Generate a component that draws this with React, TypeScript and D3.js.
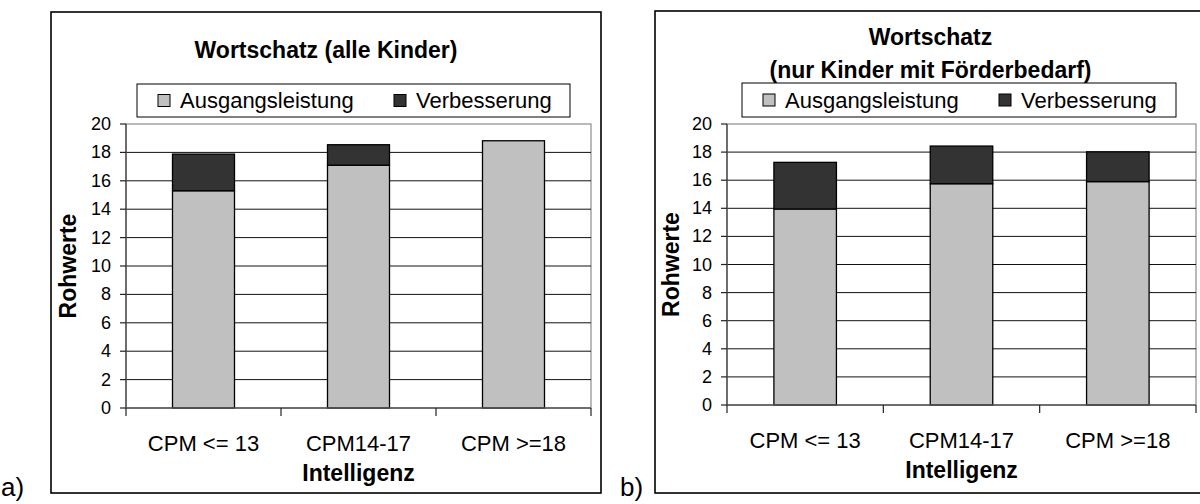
import React from "react";
import * as d3 from "d3";

const categories = ["CPM <= 13", "CPM14-17", "CPM >=18"];
const seriesNames = ["Ausgangsleistung", "Verbesserung"];
const seriesColors = ["#C0C0C0", "#333333"];
const yTicks = [0, 2, 4, 6, 8, 10, 12, 14, 16, 18, 20];

const baseA = [15.3, 17.1, 18.82];
const improveA = [2.58, 1.44, 0];
const baseB = [13.95, 15.75, 15.9];
const improveB = [3.32, 2.68, 2.12];

const titleA = ["Wortschatz (alle Kinder)"];
const titleB = ["Wortschatz", "(nur Kinder mit Förderbedarf)"];

const FONT = "'Liberation Sans', Arial, Helvetica, sans-serif";

type PanelProps = {
  box: { x0: number; x1: number; y0: number; y1: number };
  plot: { x0: number; x1: number; y0: number; y1: number };
  titles: string[];
  titleY: number[];
  legend: { x0: number; x1: number; y0: number; y1: number };
  base: number[];
  improve: number[];
  tag: string;
  tagX: number;
  yLabelX: number;
  catY: number;
  axisTitleY: number;
};

function Panel(p: PanelProps) {
  const x = d3
    .scaleBand<string>()
    .domain(categories)
    .range([p.plot.x0, p.plot.x1])
    .paddingInner(0.6)
    .paddingOuter(0.3);
  const y = d3.scaleLinear().domain([0, 20]).range([p.plot.y1, p.plot.y0]);
  const rows = categories.map((c, i) => ({ cat: c, s0: p.base[i], s1: p.improve[i] }));
  const stacked = d3.stack<any>().keys(["s0", "s1"])(rows);
  const step = x.step();
  const boundaries = [0, 1, 2, 3].map((i) => p.plot.x0 + i * step);
  const midX = (p.box.x0 + p.box.x1) / 2;
  const lg = p.legend;
  const lgMid = (lg.y0 + lg.y1) / 2;
  return (
    <g>
      <rect x={p.box.x0} y={p.box.y0} width={p.box.x1 - p.box.x0} height={p.box.y1 - p.box.y0} fill="white" stroke="#000" strokeWidth={1.6} />
      {p.titles.map((t, i) => (
        <text key={i} x={midX} y={p.titleY[i]} textAnchor="middle" dominantBaseline="central" fontFamily={FONT} fontWeight="bold" fontSize={23} fill="#000">
          {t}
        </text>
      ))}
      {/* plot border */}
      <rect x={p.plot.x0} y={p.plot.y0} width={p.plot.x1 - p.plot.x0} height={p.plot.y1 - p.plot.y0} fill="white" stroke="#8c8c8c" strokeWidth={1.2} />
      {/* gridlines */}
      {yTicks.slice(1, -1).map((t) => (
        <line key={t} x1={p.plot.x0} x2={p.plot.x1} y1={y(t)} y2={y(t)} stroke="#111" strokeWidth={1} />
      ))}
      {/* bars */}
      {stacked.map((layer, li) =>
        layer.map((d, i) => {
          const h = y(d[0]) - y(d[1]);
          if (h <= 0) return null;
          return (
            <rect key={li + "-" + i} x={x(categories[i])} y={y(d[1])} width={x.bandwidth()} height={h} fill={seriesColors[li]} stroke="#000" strokeWidth={1.3} />
          );
        })
      )}
      {/* axes */}
      <line x1={p.plot.x0} x2={p.plot.x0} y1={p.plot.y0} y2={p.plot.y1} stroke="#555" strokeWidth={1.5} />
      <line x1={p.plot.x0} x2={p.plot.x1} y1={p.plot.y1} y2={p.plot.y1} stroke="#555" strokeWidth={1.5} />
      {yTicks.map((t) => (
        <g key={t}>
          <line x1={p.plot.x0 - 6} x2={p.plot.x0} y1={y(t)} y2={y(t)} stroke="#222" strokeWidth={1.2} />
          <text x={p.plot.x0 - 15} y={y(t)} textAnchor="end" dominantBaseline="central" fontFamily={FONT} fontSize={18} fill="#000">
            {t}
          </text>
        </g>
      ))}
      {boundaries.map((bx, i) => (
        <line key={i} x1={bx} x2={bx} y1={p.plot.y1} y2={p.plot.y1 + 8} stroke="#222" strokeWidth={1.2} />
      ))}
      {categories.map((c) => (
        <text key={c} x={(x(c) as number) + x.bandwidth() / 2} y={p.catY} textAnchor="middle" dominantBaseline="central" fontFamily={FONT} fontSize={22} fill="#000">
          {c}
        </text>
      ))}
      <text x={(p.plot.x0 + p.plot.x1) / 2} y={p.axisTitleY} textAnchor="middle" dominantBaseline="central" fontFamily={FONT} fontWeight="bold" fontSize={23} fill="#000">
        Intelligenz
      </text>
      <text transform={`translate(${p.yLabelX},${(p.plot.y0 + p.plot.y1) / 2}) rotate(-90)`} textAnchor="middle" dominantBaseline="central" fontFamily={FONT} fontWeight="bold" fontSize={23} fill="#000">
        Rohwerte
      </text>
      {/* legend */}
      <rect x={lg.x0} y={lg.y0} width={lg.x1 - lg.x0} height={lg.y1 - lg.y0} fill="white" stroke="#000" strokeWidth={1} />
      {seriesNames.map((n, i) => {
        const sx = lg.x0 + 21 + i * 236;
        return (
          <g key={n}>
            <rect x={sx} y={lgMid - 6} width={12} height={12} fill={seriesColors[i]} stroke="#000" strokeWidth={1} />
            <text x={sx + 22} y={lgMid} dominantBaseline="central" fontFamily={FONT} fontSize={22} fill="#000">
              {n}
            </text>
          </g>
        );
      })}
      <text x={p.tagX} y={496} fontFamily={FONT} fontSize={26} fill="#000">
        {p.tag}
      </text>
    </g>
  );
}

export default function App() {
  return (
    <svg width={1200} height={504} style={{ position: "absolute", left: 0, top: 0, background: "white" }}>
      <rect x={0} y={0} width={1200} height={504} fill="white" />
      <Panel
        box={{ x0: 51, x1: 601, y0: 12, y1: 493 }}
        plot={{ x0: 126, x1: 591, y0: 124, y1: 408 }}
        titles={titleA}
        titleY={[50]}
        legend={{ x0: 137, x1: 570, y0: 84, y1: 117 }}
        base={baseA}
        improve={improveA}
        tag="a)"
        tagX={1}
        yLabelX={68}
        catY={443}
        axisTitleY={473}
      />
      <Panel
        box={{ x0: 655, x1: 1206, y0: 11, y1: 493 }}
        plot={{ x0: 727, x1: 1196, y0: 124, y1: 405 }}
        titles={titleB}
        titleY={[37, 70]}
        legend={{ x0: 742, x1: 1176, y0: 83, y1: 117 }}
        base={baseB}
        improve={improveB}
        tag="b)"
        tagX={620}
        yLabelX={671}
        catY={440}
        axisTitleY={470}
      />
    </svg>
  );
}
